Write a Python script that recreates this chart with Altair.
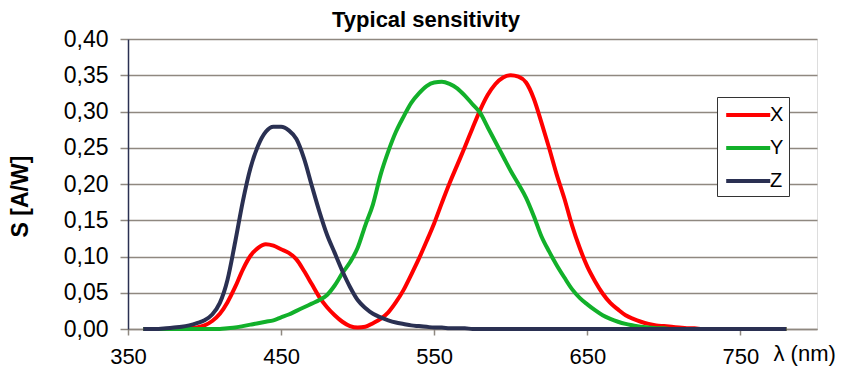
import altair as alt
import pandas as pd

wavelengths = list(range(360, 785, 5))

x_vals = [
    0, 0, 0, 0, 0, 0, 0.001, 0.002, 0.005, 0.011,
    0.021, 0.037, 0.058, 0.082, 0.101, 0.112, 0.117, 0.115, 0.110, 0.105,
    0.096, 0.080, 0.062, 0.044, 0.030, 0.019, 0.010, 0.004, 0.002, 0.003,
    0.008, 0.014, 0.023, 0.037, 0.054, 0.075, 0.097, 0.121, 0.146, 0.174,
    0.201, 0.226, 0.251, 0.277, 0.302, 0.323, 0.338, 0.347, 0.350, 0.348,
    0.340, 0.318, 0.285, 0.250, 0.213, 0.180, 0.143, 0.112, 0.086, 0.066,
    0.049, 0.036, 0.027, 0.019, 0.014, 0.010, 0.007, 0.005, 0.004, 0.003,
    0.002, 0.001, 0.001, 0, 0, 0, 0, 0, 0, 0,
    0, 0, 0, 0, 0,
]

y_vals = [
    0, 0, 0, 0, 0, 0, 0, 0, 0, 0,
    0, 0.001, 0.002, 0.004, 0.006, 0.008, 0.010, 0.012, 0.016, 0.020,
    0.025, 0.030, 0.035, 0.040, 0.047, 0.060, 0.077, 0.092, 0.112, 0.143,
    0.172, 0.213, 0.245, 0.272, 0.293, 0.312, 0.325, 0.335, 0.340, 0.341,
    0.338, 0.332, 0.322, 0.310, 0.298, 0.278, 0.258, 0.238, 0.218, 0.200,
    0.181, 0.156, 0.128, 0.107, 0.088, 0.071, 0.055, 0.043, 0.034, 0.026,
    0.019, 0.014, 0.010, 0.007, 0.005, 0.003, 0.002, 0.001, 0.001, 0,
    0, 0, 0, 0, 0, 0, 0, 0, 0, 0,
    0, 0, 0, 0, 0,
]

z_vals = [
    0, 0, 0, 0.001, 0.002, 0.003, 0.005, 0.008, 0.012, 0.020,
    0.036, 0.068, 0.120, 0.176, 0.222, 0.253, 0.272, 0.279, 0.279, 0.274,
    0.262, 0.235, 0.198, 0.162, 0.130, 0.105, 0.080, 0.058, 0.040, 0.029,
    0.021, 0.016, 0.012, 0.009, 0.007, 0.005, 0.004, 0.003, 0.002, 0.002,
    0.001, 0.001, 0.001, 0, 0, 0, 0, 0, 0, 0,
    0, 0, 0, 0, 0, 0, 0, 0, 0, 0,
    0, 0, 0, 0, 0, 0, 0, 0, 0, 0,
    0, 0, 0, 0, 0, 0, 0, 0, 0, 0,
    0, 0, 0, 0, 0,
]

series_names = ["X", "Y", "Z"]
series_colors = ["#ff0000", "#12b02a", "#2a3052"]
x_ticks = [350, 450, 550, 650, 750]
y_ticks = [0, 0.05, 0.10, 0.15, 0.20, 0.25, 0.30, 0.35, 0.40]
chart_title = "Typical sensitivity"

rows = []
for name, vals in zip(series_names, [x_vals, y_vals, z_vals]):
    for w, v in zip(wavelengths, vals):
        rows.append({"wl": w, "S": v, "series": name})
df = pd.DataFrame(rows)

FONT = "Liberation Sans"
GRID = "#8f8880"

lines = (
    alt.Chart(df)
    .mark_line(strokeWidth=4, interpolate="monotone")
    .encode(
        x=alt.X(
            "wl:Q",
            scale=alt.Scale(domain=[350, 800], nice=False, zero=False),
            axis=alt.Axis(
                values=x_ticks,
                grid=False,
                labelFlush=False,
                labelOverlap=False,
                title="λ (nm)",
                titleX=645,
                titleY=31,
                titleAlign="left",
                titleBaseline="alphabetic",
                titleFontWeight="normal",
                titleFontSize=22,
                titleFont=FONT,
                titleColor="#000000",
                labelFontSize=22,
                labelFont=FONT,
                labelColor="#000000",
                labelPadding=11,
                tickSize=6,
                tickColor=GRID,
                tickWidth=1.5,
                domainColor=GRID,
                domainWidth=1.5,
            ),
        ),
        y=alt.Y(
            "S:Q",
            scale=alt.Scale(domain=[0, 0.40], nice=False),
            axis=alt.Axis(
                values=y_ticks,
                labelExpr="replace(format(datum.value, '.2f'), '.', ',')",
                grid=True,
                gridColor=GRID,
                gridWidth=1.5,
                title="S [A/W]",
                titleX=-108,
                titleY=157,
                titleAngle=270,
                titleAlign="center",
                titleBaseline="middle",
                titleFontWeight="bold",
                titleFontSize=23,
                titleFont=FONT,
                titleColor="#000000",
                labelFontSize=23,
                labelFont=FONT,
                labelColor="#000000",
                labelPadding=12,
                tickSize=8,
                tickColor=GRID,
                tickWidth=1.5,
                domainColor="#2a3052",
                domainWidth=1.5,
            ),
        ),
        color=alt.Color(
            "series:N",
            scale=alt.Scale(domain=series_names, range=series_colors),
            title=None,
            legend=alt.Legend(
                orient="none",
                legendX=589,
                legendY=58,
                strokeColor="#333333",
                fillColor="#ffffff",
                padding=5,
                symbolType="M-0.8,0L3.2,0",
                symbolSize=484,
                symbolStrokeWidth=4,
                labelFontSize=20,
                labelFont=FONT,
                labelColor="#000000",
                labelOffset=22,
                rowPadding=10,
            ),
        ),
    )
)

title_df = pd.DataFrame({"t": [chart_title]})
title_text = (
    alt.Chart(title_df)
    .mark_text(
        font=FONT,
        fontSize=22,
        fontWeight="bold",
        color="#000000",
        align="center",
        baseline="alphabetic",
    )
    .encode(text="t:N", x=alt.value(298), y=alt.value(-12))
)

chart = (
    alt.layer(lines, title_text)
    .properties(
        width=689,
        height=290,
        padding={"left": 120, "top": 31, "right": 19, "bottom": 38},
        autosize=alt.AutoSizeParams(type="none"),
    )
    .configure_view(stroke=GRID, strokeWidth=1.5)
    .configure(background="#ffffff")
)

chart.save("out.html", embed_options={"renderer": "svg", "actions": False})
